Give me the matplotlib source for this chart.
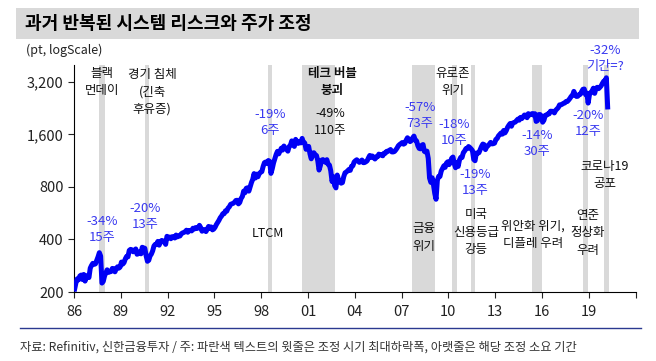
#!/usr/bin/env python3
"""Past systemic-risk episodes vs S&P 500 drawdowns (log scale)."""

import matplotlib

matplotlib.use("Agg")
import matplotlib.pyplot as plt
from matplotlib.patches import Rectangle
from matplotlib.lines import Line2D
import numpy as np

plt.rcParams["font.family"] = ["Noto Sans CJK KR", "DejaVu Sans"]

W, H = 656, 361
START_YEAR = 1986

# monthly index level (Jan 1986 .. Mar 2020)
spx_monthly = [
    208, 226, 238, 235, 247, 250, 236, 252, 231, 243, 249, 242,
    274, 284, 292, 288, 290, 304, 318, 336, 321, 225, 230, 247,
    257, 268, 259, 261, 262, 273, 272, 261, 272, 279, 274, 278,
    297, 289, 295, 310, 320, 318, 346, 351, 349, 340, 346, 353,
    329, 332, 340, 331, 361, 358, 356, 322, 300, 304, 322, 330,
    344, 367, 375, 375, 390, 371, 388, 395, 388, 392, 375, 417,
    409, 413, 404, 415, 415, 408, 424, 414, 418, 419, 431, 436,
    439, 443, 452, 440, 450, 450, 448, 464, 459, 468, 462, 466,
    482, 467, 446, 451, 456, 444, 458, 475, 463, 472, 454, 459,
    470, 487, 501, 515, 533, 545, 562, 562, 584, 581, 605, 616,
    636, 640, 645, 654, 669, 671, 640, 652, 687, 705, 757, 741,
    786, 791, 757, 801, 848, 885, 954, 900, 947, 915, 955, 970,
    980, 1049, 1102, 1112, 1091, 1134, 1121, 957, 1017, 1099, 1164, 1229,
    1280, 1238, 1286, 1335, 1302, 1373, 1329, 1320, 1283, 1363, 1389, 1469,
    1395, 1366, 1499, 1452, 1421, 1455, 1431, 1518, 1437, 1429, 1315, 1320,
    1366, 1240, 1160, 1250, 1256, 1224, 1211, 1134, 1000, 1060, 1140, 1148,
    1130, 1107, 1147, 1077, 1067, 990, 860, 916, 815, 790, 936, 880,
    856, 841, 848, 917, 964, 975, 990, 1008, 996, 1051, 1058, 1112,
    1131, 1145, 1126, 1107, 1121, 1141, 1102, 1104, 1115, 1130, 1174, 1212,
    1181, 1204, 1181, 1157, 1192, 1191, 1234, 1220, 1229, 1207, 1250, 1248,
    1280, 1281, 1295, 1311, 1270, 1270, 1277, 1304, 1336, 1378, 1401, 1418,
    1438, 1407, 1421, 1482, 1531, 1503, 1455, 1474, 1527, 1565, 1481, 1468,
    1379, 1331, 1323, 1386, 1400, 1280, 1267, 1283, 1166, 900, 850, 903,
    826, 735, 680, 873, 919, 919, 988, 1021, 1057, 1036, 1096, 1115,
    1074, 1105, 1169, 1187, 1089, 1031, 1102, 1049, 1141, 1183, 1181, 1258,
    1286, 1327, 1326, 1364, 1345, 1321, 1292, 1150, 1131, 1253, 1247, 1258,
    1312, 1366, 1409, 1398, 1310, 1362, 1379, 1407, 1441, 1412, 1416, 1426,
    1498, 1515, 1569, 1598, 1631, 1606, 1686, 1633, 1682, 1757, 1806, 1848,
    1783, 1860, 1872, 1884, 1924, 1960, 1931, 2003, 1972, 2018, 2068, 2059,
    1995, 2105, 2068, 2086, 2107, 2063, 2104, 1900, 1920, 2079, 2080, 2044,
    1880, 1932, 2060, 2065, 2097, 2099, 2174, 2171, 2168, 2126, 2199, 2239,
    2279, 2364, 2363, 2384, 2412, 2423, 2470, 2472, 2519, 2575, 2648, 2674,
    2824, 2714, 2641, 2648, 2705, 2718, 2816, 2902, 2914, 2712, 2760, 2420,
    2704, 2785, 2834, 2946, 2752, 2942, 2980, 2927, 2977, 3038, 3141, 3231,
    3230, 3380, 2300,
]

# shaded episodes (start, end) in fractional years
band_start = [1987.63, 1990.55, 1998.45, 2000.60, 2007.64, 2010.25, 2011.43, 2015.38, 2018.64, 2019.99]
band_end = [1987.98, 1990.80, 1998.67, 2002.73, 2009.14, 2010.53, 2011.70, 2016.03, 2018.92, 2020.31]

# black event labels
event_text = ["블랙\n먼데이", "경기 침체\n(긴축\n후유증)", "LTCM", "테크 버블\n붕괴", "-49%\n110주",
              "유로존\n위기", "금융\n위기", "미국\n신용등급\n강등", "위안화 위기,\n디플레 우려",
              "연준\n정상화\n우려", "코로나19\n공포"]
event_x = [1987.8, 1991.0, 1998.45, 2002.55, 2002.4, 2010.3, 2008.44, 2011.77, 2015.4, 2018.95, 2020.04]
event_y = [3200, 2815, 434, 3200, 1887, 3200, 411, 441, 424, 436, 938]
event_bold = [False, False, False, True, False, False, False, False, False, False, False]

# blue drawdown labels: max drop / duration
dd_text = ["-34%\n15주", "-20%\n13주", "-19%\n6주", "-57%\n73주", "-18%\n10주", "-19%\n13주",
           "-14%\n30주", "-20%\n12주", "-32%\n기간=?"]
dd_x = [1987.8, 1990.55, 1998.56, 2008.18, 2010.38, 2011.7, 2015.66, 2018.97, 2020.04]
dd_y = [459, 541, 1865, 2042, 1643, 843, 1411, 1838, 4335]

y_ticks = [200, 400, 800, 1600, 3200]
y_labels = ["200", "400", "800", "1,600", "3,200"]
x_ticks = list(range(1986, 2023, 3))
x_labels = ["86", "89", "92", "95", "98", "01", "04", "07", "10", "13", "16", "19", ""]

BLUE_LINE = "#0000f5"
BLUE_TEXT = "#3a3af0"
BAND = "#d9d9d9"


def main() -> None:
    fig = plt.figure(figsize=(W / 100, H / 100), dpi=100)

    # title band
    fig.patches.append(Rectangle((16 / W, 1 - 39 / H), 623 / W, 31 / H, transform=fig.transFigure,
                                 facecolor=BAND, edgecolor="none"))
    fig.text(25 / W, 1 - 23.5 / H, "과거 반복된 시스템 리스크와 주가 조정", fontsize=13,
             fontweight="bold", va="center", ha="left")
    fig.text(26 / W, 1 - 50 / H, "(pt, logScale)", fontsize=9, va="center", ha="left", color="#222222")

    ax = fig.add_axes([74 / W, 1 - 292 / H, (635.6 - 74) / W, (292 - 65) / H])
    x = START_YEAR + (np.arange(len(spx_monthly)) + 0.5) / 12
    for s, e in zip(band_start, band_end):
        ax.axvspan(s, e, color=BAND, lw=0, zorder=0)
    ax.plot(x, spx_monthly, color=BLUE_LINE, lw=3.6, solid_joinstyle="round", zorder=3)

    ax.set_yscale("log")
    ax.set_ylim(200, 4000)
    ax.set_xlim(1986, 2022)
    ax.set_yticks(y_ticks)
    ax.set_yticklabels(y_labels)
    ax.yaxis.set_minor_locator(matplotlib.ticker.NullLocator())
    ax.set_xticks(x_ticks)
    ax.set_xticklabels(x_labels)
    ax.tick_params(axis="both", labelsize=10.5, length=4, width=0.8, colors="#222222")
    ax.tick_params(axis="x", pad=5)
    for side in ["top", "right"]:
        ax.spines[side].set_visible(False)
    for side in ["left", "bottom"]:
        ax.spines[side].set_linewidth(0.8)

    for t, xx, yy, b in zip(event_text, event_x, event_y, event_bold):
        ax.text(xx, yy, t, ha="center", va="center", fontsize=9, linespacing=1.45,
                fontweight="bold" if b else "normal", color="#111111", zorder=4)
    for t, xx, yy in zip(dd_text, dd_x, dd_y):
        ax.text(xx, yy, t, ha="center", va="center", fontsize=9.5, linespacing=1.3,
                color=BLUE_TEXT, zorder=4, clip_on=False)

    # bottom rule + source
    fig.add_artist(Line2D([20 / W, 641 / W], [1 - 328 / H, 1 - 328 / H], transform=fig.transFigure,
                          color="#2b3990", lw=1.0))
    fig.text(20 / W, 1 - 347 / H,
             "자료: Refinitiv, 신한금융투자 / 주: 파란색 텍스트의 윗줄은 조정 시기 최대하락폭, 아랫줄은 해당 조정 소요 기간",
             fontsize=8.8, va="center", ha="left", color="#333333")

    fig.savefig("out.png", dpi=100)
    plt.close(fig)


if __name__ == "__main__":
    main()
